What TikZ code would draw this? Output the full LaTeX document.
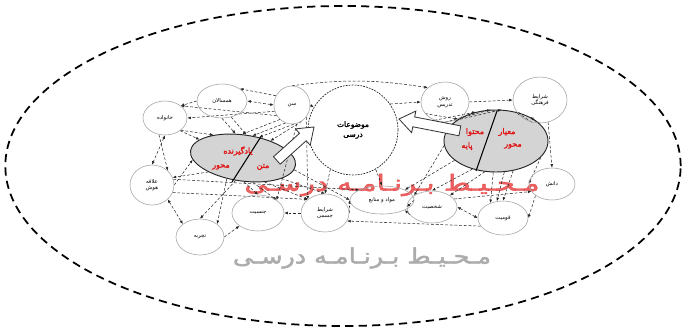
\documentclass[tikz,border=0pt]{standalone}
\usepackage{fontspec}
\usepackage{graphicx}
\usetikzlibrary{shapes.geometric,arrows.meta,calc}
\TeXXeTstate=1
\newfontfamily\arabicfont[Script=Arabic]{DejaVu Sans}
\newfontfamily\arabicheavy[Script=Arabic,FakeBold=2]{DejaVu Sans}
\newcommand{\pers}[1]{{\arabicfont\beginR #1\endR}}
\newcommand{\persb}[1]{{\arabicheavy\beginR #1\endR}}
\definecolor{redtxt}{RGB}{232,70,70}
\definecolor{redlbl}{RGB}{225,20,20}
\definecolor{greytxt}{RGB}{172,172,172}
\definecolor{nodeline}{RGB}{165,165,165}
\definecolor{greyfill}{RGB}{212,212,212}
\pgfdeclarelayer{back}
\pgfdeclarelayer{mid}
\pgfsetlayers{back,mid,main}
\begin{document}
\begin{tikzpicture}[x=0.03cm,y=-0.03cm,
  lbl/.style={ellipse, draw=nodeline, line width=0.5pt, inner sep=0pt, align=center,
    font=\fontsize{4.6}{5.6}\selectfont},
  greyell/.style={ellipse, draw=black!85, fill=greyfill, line width=0.8pt, inner sep=0pt},
  conn/.style={draw=black!85, line width=0.45pt, dash pattern=on 2.4pt off 1.6pt,
    -{Latex[length=3pt,width=2.4pt]}},
  conntwo/.style={conn, {Latex[length=3pt,width=2.4pt]}-{Latex[length=3pt,width=2.4pt]}},
  redlab/.style={text=redlbl, inner sep=0pt, font=\fontsize{6.8}{7.5}\selectfont},
  blockarrow/.style={draw=black!80, fill=white, line width=0.7pt, line join=miter}
]
\useasboundingbox (0,0) rectangle (687,330);

\begin{pgfonlayer}{back}
% outer environment
\draw[line width=1.5pt, dash pattern=on 7pt off 4.5pt] (343,166) ellipse [x radius=10.13cm, y radius=4.8cm];
% grey ellipses
\node[greyell, minimum width=3.18cm, minimum height=1.38cm, rotate=-8] (leftG) at (243,158) {};
\node[greyell, minimum width=3.12cm, minimum height=1.86cm] (rightG) at (496,141) {};
\coordinate (lgA) at (262,135);
\coordinate (lgB) at (232,182);
\coordinate (rgA) at (497,111);
\coordinate (rgB) at (476,171);
\draw[line width=0.9pt] (lgA) -- (lgB);
\draw[line width=0.9pt] (rgA) -- (rgB);
% watermark text
\node[text=redtxt, opacity=0.85, inner sep=0pt, font=\fontsize{19}{19}\selectfont] (redwm) at (392,185)
  {\scalebox{1.3}[1]{\persb{مـحـیـط بـرنـامـه درسـی}}};
\node[text=greytxt, inner sep=0pt, font=\fontsize{18}{18}\selectfont] (greywm) at (362,258)
  {\scalebox{1.2}[1]{\persb{مـحـیـط بـرنـامـه درسـی}}};
% labels in grey ellipses
\node[redlab] (lg1) at (238,151) {\persb{یادگیرنده}};
\node[redlab] (lg2) at (221,167) {\persb{محور}};
\node[redlab] (lg3) at (263,167) {\persb{متن}};
\node[redlab] (rg1) at (475,132) {\persb{محتوا}};
\node[redlab] (rg2) at (507,132) {\persb{معیار}};
\node[redlab] (rg3) at (467,146) {\persb{پایه}};
\node[redlab] (rg4) at (513,146) {\persb{محور}};
\end{pgfonlayer}

% factor nodes
\node[lbl, minimum width=1.08cm, minimum height=1.14cm] (sen) at (292,105) {\pers{سن}};
\node[lbl, minimum width=1.5cm, minimum height=1.02cm] (hamsal) at (222,101) {\pers{همسالان}};
\node[lbl, minimum width=1.32cm, minimum height=1.02cm] (khan) at (165,118) {\pers{خانواده}};
\node[lbl, minimum width=1.32cm, minimum height=1.2cm] (alaqe) at (152,185) {\pers{علاقه}\\\pers{هوش}};
\node[lbl, minimum width=1.44cm, minimum height=1.08cm] (tajrobe) at (200,237) {\pers{تجربه}};
\node[lbl, minimum width=1.56cm, minimum height=1.08cm] (jens) at (258,213) {\pers{جنسیت}};
\node[lbl, minimum width=1.44cm, minimum height=1.14cm] (jesmi) at (325,213) {\pers{شرایط}\\\pers{جسمی}};
\node[lbl, minimum width=1.92cm, minimum height=0.84cm] (mavad) at (382,200) {\pers{مواد و منابع}};
\node[lbl, minimum width=1.5cm, minimum height=0.96cm] (shakh) at (432,207) {\pers{شخصیت}};
\node[lbl, minimum width=1.5cm, minimum height=1.02cm] (qom) at (503,218) {\pers{قومیت}};
\node[lbl, minimum width=1.38cm, minimum height=0.96cm] (danesh) at (552,184) {\pers{دانش}};
\node[lbl, minimum width=1.44cm, minimum height=1.2cm] (ravesh) at (445,102) {\pers{روش}\\\pers{تدریس}};
\node[lbl, minimum width=1.62cm, minimum height=1.38cm] (farh) at (540,100) {\pers{شرایط}\\\pers{فرهنگی}};

% central subject circle
\node[circle, draw=black!85, fill=white, line width=0.6pt, dash pattern=on 1.5pt off 1pt,
  minimum size=2.7cm, inner sep=0pt, align=center, font=\fontsize{6.4}{8.5}\selectfont]
  (mozu) at (353,130) {\persb{موضوعات}\\\persb{درسی}};

% connectors
\begin{pgfonlayer}{mid}
\draw[conn] (sen.north) to[bend left=8] (ravesh.north west);
\draw[conntwo] (sen.west) -- (hamsal.east);
\draw[conn] (sen.150) -- (hamsal.north east);
\draw[conn] (sen.200) -- (khan.east);
\draw[conn] (sen.215) -- (khan.north east);
\draw[conn] (hamsal.west) -- (khan.north east);
\draw[conn] (sen.250) -- (leftG.75);
\draw[conn] (sen.275) -- (leftG.60);
\draw[conn] (sen.300) -- (leftG.40);
\draw[conn] (sen.230) -- (leftG.100);
\draw[conn] (sen.285) -- (jens.north east);
\draw[conn] (sen.320) -- (jesmi.north west);
\draw[conn] (hamsal.south) -- (leftG.115);
\draw[conn] (hamsal.300) -- (leftG.90);
\draw[conn] (khan.south east) -- (leftG.150);
\draw[conn] (khan.320) -- (leftG.165);
\draw[conntwo] (khan.south) -- (alaqe.north);
\draw[conn] (khan.250) -- (alaqe.north east);
\draw[conn] (sen.east) -- (mozu.150);
\draw[conn] (mozu.35) -- (ravesh.west);
\draw[conn] (ravesh.east) -- (farh.west);
\draw[conn] (ravesh.south) -- (rightG.100);
\draw[conn] (ravesh.300) -- (rightG.80);
\draw[conn] (ravesh.240) -- (rightG.125);
\draw[conn] (ravesh.210) -- (rightG.150);
\draw[conn] (farh.south) -- (rightG.35);
\draw[conn] (farh.250) -- (rightG.55);
\draw[conn] (farh.290) -- (danesh.north);
\draw[conn] (rightG.340) -- (danesh.west);
\draw[conn] (rightG.300) -- (qom.north);
\draw[conn] (rightG.285) -- (qom.110);
\draw[conn] (rightG.265) -- (qom.130);
\draw[conn] (rightG.250) -- (shakh.north east);
\draw[conn] (rightG.230) -- (shakh.north);
\draw[conn] (rightG.205) -- (mavad.north east);
\draw[conn] (danesh.south west) -- (qom.east);
\draw[conntwo] (shakh.east) -- (qom.west);
\draw[conn] (shakh.20) -- (danesh.200);
\draw[conn] (mavad.east) -- (shakh.west);
\draw[conn] (jesmi.east) -- (mavad.west);
\draw[conn] (qom.200) -- (jesmi.340);
\draw[conn] (shakh.200) -- (mavad.south east);
\draw[conn] (jesmi.west) -- (jens.east);
\draw[conn] (tajrobe.east) -- (jens.south west);
\draw[conntwo] (alaqe.south east) -- (tajrobe.north west);
\draw[conn] (alaqe.east) -- (leftG.190);
\draw[conn] (alaqe.15) -- (mavad.north west);
\draw[conn] (alaqe.340) -- (jesmi.north west);
\draw[conn] (leftG.260) -- (tajrobe.north);
\draw[conn] (leftG.240) -- (tajrobe.north east);
\draw[conn] (leftG.280) -- (jens.north);
\draw[conn] (leftG.300) -- (jens.north east);
\draw[conn] (leftG.320) -- (jesmi.north west);
\draw[conn] (leftG.340) -- (jesmi.north);
\draw[conn] (leftG.210) -- (alaqe.20);
\draw[conn] (leftG.355) -- (mavad.west);
\draw[conn] (mozu.240) -- (jesmi.north);
\draw[conn] (mozu.300) -- (mavad.north);
\draw[conn] (rightG.185) -- (shakh.north west);
\end{pgfonlayer}

% block arrows
\begin{scope}[shift={(314,127)}, rotate=42]
  \draw[blockarrow] (-50,-5) -- (-15,-5) -- (-15,-11) -- (0,0) -- (-15,11) -- (-15,5) -- (-50,5) -- cycle;
\end{scope}
\begin{scope}[shift={(399,119)}, rotate=169]
  \draw[blockarrow] (-62,-5) -- (-15,-5) -- (-15,-11) -- (0,0) -- (-15,11) -- (-15,5) -- (-62,5) -- cycle;
\end{scope}
\end{tikzpicture}
\end{document}
